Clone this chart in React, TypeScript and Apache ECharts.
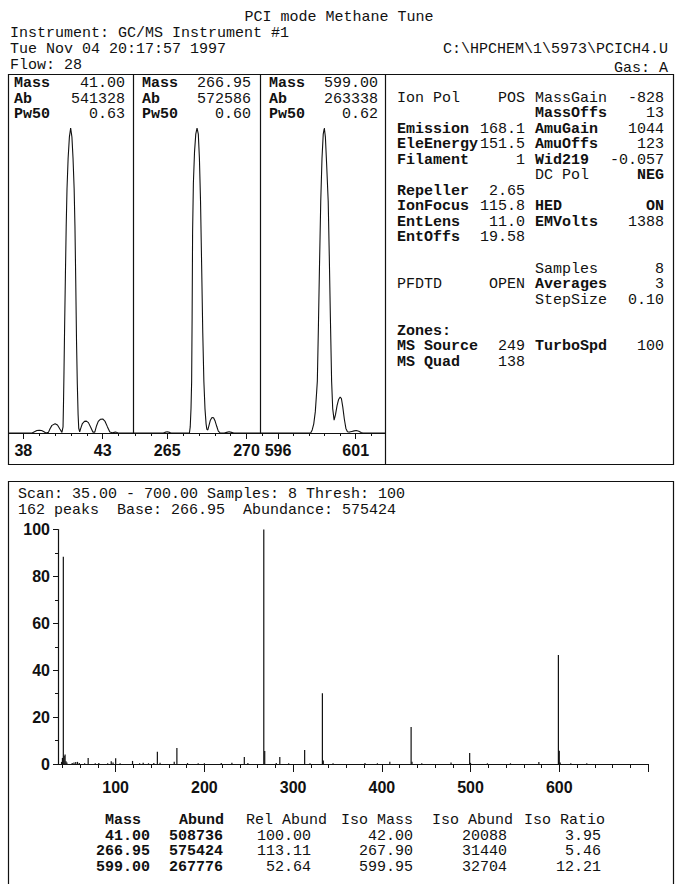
import React, { useEffect, useRef } from "react";
import * as echarts from "echarts";

const INK = "#111111";
const MONO = '"Liberation Mono", "Courier New", "DejaVu Sans Mono", monospace';
const SANS = '"Liberation Sans", Arial, "DejaVu Sans", sans-serif';

// ---------- header ----------
const TITLE = "PCI mode Methane Tune";
const HEADER_LINES = ["Instrument: GC/MS Instrument #1", "Tue Nov 04 20:17:57 1997", "Flow: 28"];
const METHOD_PATH = "C:\\HPCHEM\\1\\5973\\PCICH4.U";
const GAS = "Gas: A";

// ---------- tune peak panels ----------
const panelLabels = ["Mass", "Ab", "Pw50"];
const panelValues = [
  ["41.00", "541328", "0.63"],
  ["266.95", "572586", "0.60"],
  ["599.00", "263338", "0.62"],
];
const panel1MinorTicks = [38, 39, 40, 41, 42, 43, 44];
const panel1MajorTicks = [38, 43];
const panel2MinorTicks = [263, 264, 265, 266, 267, 268, 269, 270];
const panel2MajorTicks = [265, 270];
const panel3MinorTicks = [595, 596, 597, 598, 599, 600, 601, 602];
const panel3MajorTicks = [596, 601];

const profile41: [number, number][] = [
  [37.1, 0], [38.55, 0], [38.7, 0.4], [38.85, 0.8], [39.0, 0.9], [39.15, 0.8], [39.3, 0.4], [39.42, 0],
  [39.58, 0.2], [39.68, 1.4], [39.8, 2.5], [40.0, 3.0], [40.15, 2.6], [40.3, 1.3], [40.43, 0.2],
  [40.5, 2], [40.53, 10], [40.56, 20], [40.6, 35], [40.65, 52], [40.7, 68], [40.75, 80], [40.82, 90],
  [40.9, 97], [40.98, 100], [41.06, 97], [41.13, 90], [41.2, 80], [41.25, 68], [41.3, 50], [41.35, 30],
  [41.4, 16], [41.45, 6], [41.49, 1.5], [41.55, 0.4], [41.62, 1.6], [41.72, 3.1], [41.85, 3.8],
  [41.97, 3.9], [42.1, 3.4], [42.25, 1.8], [42.38, 0.3], [42.5, 0.3], [42.6, 2.2], [42.72, 3.8],
  [42.85, 4.5], [43.0, 4.6], [43.15, 3.8], [43.3, 2.0], [43.45, 0.3], [43.6, 0.1], [43.8, 0.3],
  [43.95, 0.1], [44.1, 0], [44.94, 0],
];
const profile267: [number, number][] = [
  [262.875, 0], [264.75, 0], [264.85, 0.2], [265.0, 0.4], [265.15, 0.2], [265.25, 0], [266.4, 0],
  [266.45, 2], [266.5, 8], [266.54, 17], [266.57, 38], [266.6, 66], [266.65, 82], [266.72, 92],
  [266.8, 98], [266.88, 100], [266.96, 98], [267.03, 90], [267.1, 76], [267.17, 55], [267.24, 33],
  [267.31, 17], [267.38, 8], [267.45, 3], [267.5, 1.2], [267.56, 1.0], [267.63, 2.4], [267.72, 4.2],
  [267.82, 5.1], [267.92, 5.0], [268.02, 3.9], [268.12, 2.2], [268.22, 0.6], [268.32, 0.1],
  [268.6, 0], [268.75, 0.2], [268.9, 0.4], [269.05, 0.2], [269.2, 0], [270.88, 0],
];
const profile599: [number, number][] = [
  [594.87, 0], [598.1, 0], [598.2, 1], [598.3, 3], [598.4, 7], [598.48, 13], [598.53, 17],
  [598.6, 35], [598.67, 55], [598.75, 76], [598.83, 90], [598.91, 98], [598.98, 100], [599.05, 97],
  [599.13, 88], [599.23, 76], [599.3, 58], [599.37, 38], [599.45, 17], [599.52, 8], [599.61, 4.2],
  [599.7, 6], [599.8, 9], [599.9, 11], [600.0, 11.8], [600.08, 11.3], [600.17, 8.5], [600.27, 4.5],
  [600.37, 1.5], [600.47, 0.4], [600.6, 0.3], [600.75, 0.5], [600.9, 0.7], [601.04, 0.8],
  [601.2, 0.6], [601.35, 0.2], [601.45, 0], [602.92, 0],
];

// ---------- tune parameters ----------
const tuneRows: string[][] = [
  ["Ion Pol", "POS", "MassGain", "-828"],
  ["", "", "MassOffs", "13"],
  ["Emission", "168.1", "AmuGain", "1044"],
  ["EleEnergy", "151.5", "AmuOffs", "123"],
  ["Filament", "1", "Wid219", "-0.057"],
  ["", "", "DC Pol", "NEG"],
  ["Repeller", "2.65", "", ""],
  ["IonFocus", "115.8", "HED", "ON"],
  ["EntLens", "11.0", "EMVolts", "1388"],
  ["EntOffs", "19.58", "", ""],
  ["", "", "", ""],
  ["", "", "Samples", "8"],
  ["PFDTD", "OPEN", "Averages", "3"],
  ["", "", "StepSize", "0.10"],
  ["", "", "", ""],
  ["Zones:", "", "", ""],
  ["MS Source", "249", "TurboSpd", "100"],
  ["MS Quad", "138", "", ""],
];
const lightLabels = ["Ion Pol", "POS", "MassGain", "DC Pol", "Samples", "StepSize", "PFDTD"];
const boldValues = ["NEG", "ON"];

// ---------- spectrum ----------
const SCAN_LINE = "Scan: 35.00 - 700.00 Samples: 8 Thresh: 100";
const PEAKS_LINE = "162 peaks  Base: 266.95  Abundance: 575424";

const spectrumMass = [
  39, 40, 41, 42, 43, 44, 45, 51, 53, 55, 57, 59, 65, 69, 77, 81, 91, 95, 97, 100, 105, 119, 127, 131,
  137, 143, 147, 150, 166, 169, 181, 193, 200, 219, 231, 245, 249, 266.95, 268, 281, 285, 295, 313,
  319, 333, 334, 345, 381, 395, 409, 433, 434, 445, 478, 499, 500, 519, 545, 577, 599, 600, 601, 613, 631,
];
const spectrumAbund = [
  0.9, 2.6, 88.4, 3.5, 4.1, 1.2, 0.6, 0.4, 0.6, 0.8, 0.9, 0.4, 0.3, 2.6, 0.3, 0.4, 0.3, 1.2, 0.6, 2.4, 0.3, 1.3, 0.3, 0.5,
  0.3, 0.4, 5.2, 0.5, 1.0, 6.8, 0.4, 0.3, 0.3, 0.4, 0.5, 3.0, 0.4, 100, 5.5, 0.4, 3.0, 0.3, 6.0,
  0.3, 30.2, 1.5, 0.3, 0.4, 0.3, 1.0, 15.8, 1.0, 0.3, 0.6, 4.7, 0.5, 0.3, 0.3, 0.8, 46.5, 5.7, 0.6, 0.3, 0.3,
];
const specMinorTicks = [
  40, 60, 80, 100, 120, 140, 160, 180, 200, 220, 240, 260, 280, 300, 320, 340, 360, 380, 400, 420,
  440, 460, 480, 500, 520, 540, 560, 580, 600, 620, 640, 660, 680, 700,
];
const specMajorTicks = [100, 200, 300, 400, 500, 600, 700];
const specXLabels = [100, 200, 300, 400, 500, 600];
const specYMinorTicks = [0, 10, 20, 30, 40, 50, 60, 70, 80, 90, 100];
const specYLabels = [0, 20, 40, 60, 80, 100];

// ---------- results table ----------
const tableHeader = ["Mass", "Abund", "Rel Abund", "Iso Mass", "Iso Abund", "Iso Ratio"];
const tableRows = [
  ["41.00", "508736", "100.00", "42.00", "20088", "3.95"],
  ["266.95", "575424", "113.11", "267.90", "31440", "5.46"],
  ["599.00", "267776", "52.64", "599.95", "32704", "12.21"],
];

function txt(x: number, y: number, text: string, align = "left", bold = false, size = 15, family = MONO) {
  return {
    type: "text",
    x,
    y,
    silent: true,
    style: {
      text,
      fill: INK,
      fontFamily: family,
      fontSize: size,
      fontWeight: bold ? "bold" : "normal",
      align,
      verticalAlign: "middle",
    },
  };
}

function buildOption() {
  const graphics: any[] = [];
  // frames
  graphics.push({ type: "rect", silent: true, shape: { x: 8.5, y: 74.5, width: 665, height: 390 }, style: { fill: "none", stroke: INK, lineWidth: 1.2 } });
  graphics.push({ type: "line", silent: true, shape: { x1: 133.5, y1: 74.5, x2: 133.5, y2: 433 }, style: { stroke: INK, lineWidth: 1.2 } });
  graphics.push({ type: "line", silent: true, shape: { x1: 260.5, y1: 74.5, x2: 260.5, y2: 433 }, style: { stroke: INK, lineWidth: 1.2 } });
  graphics.push({ type: "line", silent: true, shape: { x1: 385.5, y1: 74.5, x2: 385.5, y2: 464.5 }, style: { stroke: INK, lineWidth: 1.2 } });
  graphics.push({ type: "rect", silent: true, shape: { x: 8.5, y: 481.5, width: 665, height: 420 }, style: { fill: "none", stroke: INK, lineWidth: 1.2 } });

  // header
  graphics.push(txt(339, 17, TITLE, "center"));
  HEADER_LINES.forEach((t, i) => graphics.push(txt(10, 33.5 + i * 16, t)));
  graphics.push(txt(668, 49.5, METHOD_PATH, "right"));
  graphics.push(txt(668, 68, GAS, "right"));

  // panel captions
  const capLeft = [14, 142, 269];
  const capRight = [125, 251, 378];
  const capY = [83.5, 99.1, 114.7];
  panelValues.forEach((vals, p) => {
    panelLabels.forEach((lab, r) => {
      graphics.push(txt(capLeft[p], capY[r], lab, "left", true));
      graphics.push(txt(capRight[p], capY[r], vals[r], "right"));
    });
  });

  // tune parameter block
  tuneRows.forEach((row, i) => {
    const y = 98 + i * 15.55;
    const [la, va, lb, vb] = row;
    if (la) graphics.push(txt(397, y, la, "left", !lightLabels.includes(la)));
    if (va) graphics.push(txt(525, y, va, "right", boldValues.includes(va)));
    if (lb) graphics.push(txt(535, y, lb, "left", !lightLabels.includes(lb)));
    if (vb) graphics.push(txt(664, y, vb, "right", boldValues.includes(vb)));
  });

  // spectrum header
  graphics.push(txt(18, 494, SCAN_LINE));
  graphics.push(txt(18, 510, PEAKS_LINE));

  // table
  const headRight = [141, 224, 327, 413, 513, 605];
  const cellRight = [150, 223, 311, 413, 507, 601];
  tableHeader.forEach((h, c) => graphics.push(txt(headRight[c], 820, h, "right", c < 2)));
  tableRows.forEach((row, r) => {
    row.forEach((v, c) => graphics.push(txt(cellRight[c], 836 + r * 15.6, v, "right", c < 2)));
  });

  const tickStyle = { color: INK, width: 1 };
  const labelStyle = { color: INK, fontFamily: SANS, fontWeight: "bold" as const, fontSize: 16 };

  const panelX = (gridIndex: number, min: number, max: number, minor: number[], major: number[]) => [
    {
      type: "value", gridIndex, min, max, position: "bottom", offset: 0,
      axisLine: { show: true, onZero: false, lineStyle: { color: INK, width: 1.2 } },
      axisTick: { show: true, length: 3, customValues: minor, lineStyle: tickStyle },
      axisLabel: { show: true, customValues: major, margin: 9, ...labelStyle },
      splitLine: { show: false },
    },
    {
      type: "value", gridIndex, min, max, position: "bottom", offset: 0,
      axisLine: { show: false },
      axisTick: { show: true, length: 6, customValues: major, lineStyle: tickStyle },
      axisLabel: { show: false },
      splitLine: { show: false },
    },
  ];

  const xAxis = [
    ...panelX(0, 37.095, 44.94, panel1MinorTicks, panel1MajorTicks),
    ...panelX(1, 262.875, 270.88, panel2MinorTicks, panel2MajorTicks),
    ...panelX(2, 594.87, 602.92, panel3MinorTicks, panel3MajorTicks),
    {
      type: "value", gridIndex: 3, min: 35, max: 700, position: "bottom", offset: 0,
      axisLine: { show: true, onZero: false, lineStyle: { color: INK, width: 1.2 } },
      axisTick: { show: true, length: 4, customValues: specMinorTicks, lineStyle: tickStyle },
      axisLabel: { show: true, customValues: specXLabels, margin: 15, ...labelStyle },
      splitLine: { show: false },
    },
    {
      type: "value", gridIndex: 3, min: 35, max: 700, position: "bottom", offset: 0,
      axisLine: { show: false },
      axisTick: { show: true, length: 8, customValues: specMajorTicks, lineStyle: tickStyle },
      axisLabel: { show: false },
      splitLine: { show: false },
    },
  ];

  const yAxis = [
    { type: "value", gridIndex: 0, min: 0, max: 100, show: false },
    { type: "value", gridIndex: 1, min: 0, max: 100, show: false },
    { type: "value", gridIndex: 2, min: 0, max: 100, show: false },
    {
      type: "value", gridIndex: 3, min: 0, max: 100, position: "left", offset: 0,
      axisLine: { show: true, onZero: false, lineStyle: { color: INK, width: 1.2 } },
      axisTick: { show: true, length: 3, customValues: specYMinorTicks, lineStyle: tickStyle },
      axisLabel: { show: true, customValues: specYLabels, margin: 8, ...labelStyle },
      splitLine: { show: false },
    },
    {
      type: "value", gridIndex: 3, min: 0, max: 100, position: "left", offset: 0,
      axisLine: { show: false },
      axisTick: { show: true, length: 5, customValues: specYLabels, lineStyle: tickStyle },
      axisLabel: { show: false },
      splitLine: { show: false },
    },
  ];

  const lineSeries = (data: [number, number][], xi: number, yi: number) => ({
    type: "line", xAxisIndex: xi, yAxisIndex: yi, data, showSymbol: false, symbol: "none",
    smooth: false, silent: true, clip: true,
    lineStyle: { color: INK, width: 1.1 },
  });

  return {
    animation: false,
    backgroundColor: "#ffffff",
    grid: [
      { left: 9, top: 128, width: 124.5, height: 305 },
      { left: 133.5, top: 128, width: 127, height: 305 },
      { left: 260.5, top: 128, width: 125, height: 305 },
      { left: 58, top: 529.5, width: 590, height: 234.5 },
    ],
    xAxis,
    yAxis,
    series: [
      lineSeries(profile41, 0, 0),
      lineSeries(profile267, 2, 1),
      lineSeries(profile599, 4, 2),
      {
        type: "bar", xAxisIndex: 6, yAxisIndex: 3, silent: true, barWidth: 1.2,
        data: spectrumMass.map((m, i) => [m, spectrumAbund[i]]),
        itemStyle: { color: INK },
      },
    ],
    graphic: { elements: graphics },
  };
}

export default function App() {
  const ref = useRef<HTMLDivElement>(null);
  useEffect(() => {
    if (!ref.current) return;
    const chart = echarts.init(ref.current, null, { renderer: "svg" });
    chart.setOption(buildOption() as any);
    return () => chart.dispose();
  }, []);
  return (
    <div
      ref={ref}
      style={{ position: "fixed", left: 0, top: 0, width: 678, height: 884, background: "#fff" }}
    />
  );
}
